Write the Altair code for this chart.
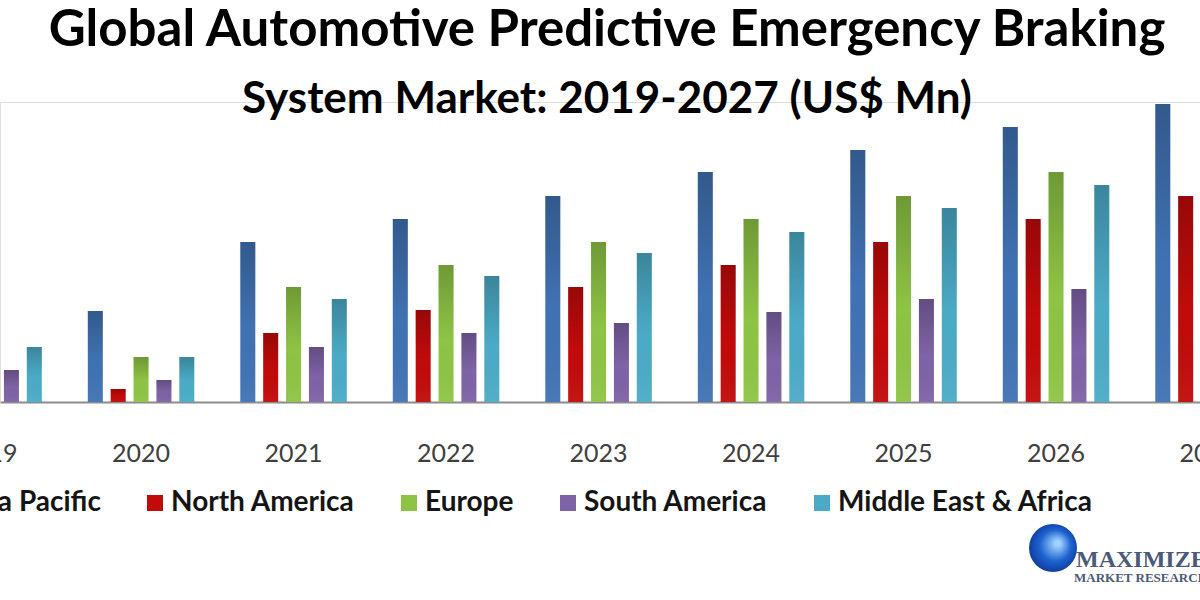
import altair as alt
import pandas as pd

years = [2019, 2020, 2021, 2022, 2023, 2024, 2025, 2026, 2027]
regions = ["Asia Pacific", "North America", "Europe", "South America", "Middle East & Africa"]
asia_pacific = [112, 91, 160, 183, 206, 230, 252, 275, 298]
north_america = [25, 13, 69, 92, 115, 137, 160, 183, 206]
europe = [62, 45, 115, 137, 160, 183, 206, 230, 253]
south_america = [32, 22, 55, 69, 79, 90, 103, 113, 124]
middle_east_africa = [55, 45, 103, 126, 149, 170, 194, 217, 240]
colors = ["#4072B3", "#C20A0A", "#8EC445", "#7E63A6", "#4BABC7"]

series = [asia_pacific, north_america, europe, south_america, middle_east_africa]
rows = []
for i, (name, vals) in enumerate(zip(regions, series)):
    for yr, v in zip(years, vals):
        rows.append({"year": yr, "region": name, "idx": i, "value": v})
df = pd.DataFrame(rows)
year_df = pd.DataFrame({"year": years})

xscale = alt.Scale(domain=[2019.075, 2026.944], nice=False, zero=False, padding=0)
yscale = alt.Scale(domain=[0, 300], padding=0)

base = alt.Chart(df).transform_calculate(
    pos="datum.year + (datum.idx - 2) * 0.150"
)

bars = base.mark_bar(size=15).encode(
    x=alt.X(
        "pos:Q",
        scale=xscale,
        axis=alt.Axis(
            values=years, title=None, ticks=False, grid=False, labels=False,
            domainColor="#8c8c8c", domainWidth=2,
        ),
    ),
    y=alt.Y("value:Q", scale=yscale, axis=None),
    color=alt.Color(
        "region:N",
        scale=alt.Scale(domain=regions, range=colors),
        sort=regions,
        legend=alt.Legend(
            orient="none", legendX=-71, legendY=387, direction="horizontal",
            columns=5, title=None, symbolType="square", symbolSize=256,
            symbolStrokeWidth=0, labelFont="Lato", labelFontWeight="bold",
            labelFontSize=28, labelColor="#151515", columnPadding=40,
            labelOffset=2, padding=0, labelLimit=0,
        ),
    ),
)

shade = base.mark_bar(
    size=15,
    fill=alt.LinearGradient(
        gradient="linear", x1=0, y1=0, x2=0, y2=1,
        stops=[alt.GradientStop(color="rgba(0,0,0,0.22)", offset=0),
               alt.GradientStop(color="rgba(0,0,0,0.0)", offset=0.55),
               alt.GradientStop(color="rgba(255,255,255,0.05)", offset=1)],
    ),
).encode(
    x=alt.X("pos:Q", scale=xscale),
    y=alt.Y("value:Q", scale=yscale),
)

year_labels = alt.Chart(year_df).mark_text(
    font="Lato", fontSize=25, color="#404040", baseline="middle", align="center"
).encode(
    x=alt.X("year:Q", scale=xscale),
    y=alt.value(352),
    text=alt.Text("year:Q", format="d"),
)

logo_df = pd.DataFrame({"a": ["MAXIMIZE"], "b": ["MARKET RESEARCH"]})
globe = alt.Chart(logo_df).mark_point(
    filled=True, shape="circle", size=2304, opacity=1,
    fill=alt.RadialGradient(
        gradient="radial", x1=0.6, y1=0.4, r1=0.05, x2=0.5, y2=0.5, r2=0.6,
        stops=[alt.GradientStop(color="#9FD3FF", offset=0),
               alt.GradientStop(color="#1E63D0", offset=0.5),
               alt.GradientStop(color="#0A2F8C", offset=1)],
    ),
).encode(x=alt.value(1053), y=alt.value(446))
logo1 = alt.Chart(logo_df).mark_text(
    font="Liberation Serif", fontSize=24, fontWeight="bold", color="#4B5A78", align="left", baseline="alphabetic"
).encode(text="a:N", x=alt.value(1076), y=alt.value(465))
logo2 = alt.Chart(logo_df).mark_text(
    font="Liberation Serif", fontSize=13, fontWeight="bold", color="#4B5A78", align="left", baseline="alphabetic"
).encode(text="b:N", x=alt.value(1074), y=alt.value(480))

chart = alt.layer(bars, shade, year_labels, globe, logo1, logo2).properties(
    width=1200,
    height=300,
    autosize=alt.AutoSizeParams(type="none"),
    padding={"left": 0, "top": 102, "right": 0, "bottom": 198},
    title=alt.TitleParams(
        text="Global Automotive Predictive Emergency Braking",
        subtitle="System Market: 2019-2027 (US$ Mn)",
        font="Lato", fontSize=51, fontWeight="bold", color="#000000",
        subtitleFont="Lato", subtitleFontSize=44, subtitleFontWeight="bold",
        subtitleColor="#000000", subtitlePadding=21,
        anchor="middle", offset=-21, dx=7,
    ),
).configure_view(stroke=None, strokeWidth=0).configure(background="white")

chart.save("out.html", embed_options={"renderer": "svg", "actions": False})
